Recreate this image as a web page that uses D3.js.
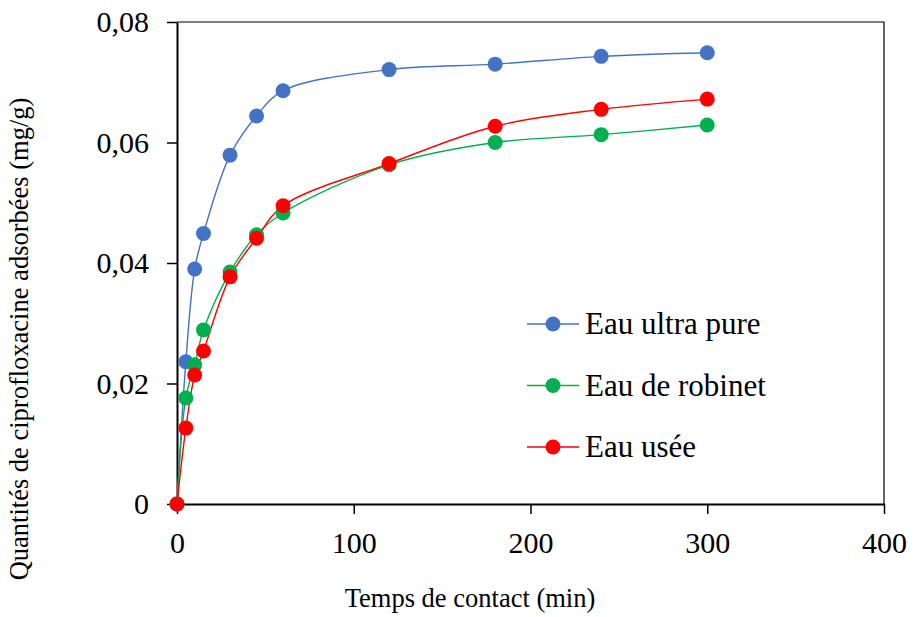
<!DOCTYPE html>
<html>
<head>
    <script src="https://cdnjs.cloudflare.com/ajax/libs/d3/7.8.5/d3.min.js"></script>
    <style>
        body { margin: 0; background: white; }
        svg text { font-family: "Liberation Serif", "Times New Roman", serif; fill: #000; }
    </style>
</head>
<body>
<div id="chart"></div>
<script>
// Data
const temps = [0, 5, 10, 15, 30, 45, 60, 120, 180, 240, 300];
const ultraPure = [0, 0.0236, 0.0390, 0.0449, 0.0579, 0.0644, 0.0686, 0.0721, 0.0730, 0.0743, 0.0749];
const robinet = [0, 0.0176, 0.0231, 0.0289, 0.0385, 0.0447, 0.0483, 0.0563, 0.0600, 0.0613, 0.0629];
const usee = [0, 0.0126, 0.0214, 0.0254, 0.0377, 0.0441, 0.0495, 0.0565, 0.0627, 0.0655, 0.0672];
const xTicks = [0, 100, 200, 300, 400];
const yTicks = [0, 0.02, 0.04, 0.06, 0.08];

const series = [
    { name: 'Eau ultra pure', values: ultraPure, color: '#4472C4' },
    { name: 'Eau de robinet', values: robinet, color: '#00B050' },
    { name: 'Eau usée', values: usee, color: '#FF0000' }
];

// Setup
const W = 915, H = 617;
const margin = { top: 22, right: 31, bottom: 113, left: 177 };
const width = W - margin.left - margin.right;
const height = H - margin.top - margin.bottom;

const svg = d3.select('#chart').append('svg')
    .attr('width', W)
    .attr('height', H);

const g = svg.append('g')
    .attr('transform', `translate(${margin.left},${margin.top})`);

const x = d3.scaleLinear().domain([0, 400]).range([0, width]);
const y = d3.scaleLinear().domain([0, 0.08]).range([height, 0]);

const fmt = d => d === 0 ? '0' : d3.format('.2f')(d).replace('.', ',');

// frame (top and right)
g.append('path')
    .attr('d', `M0,0H${width}V${height}`)
    .attr('fill', 'none')
    .attr('stroke', '#000')
    .attr('stroke-width', 1.2);

// Axes
const xAxis = g.append('g')
    .attr('transform', `translate(0,${height})`)
    .call(d3.axisBottom(x).tickValues(xTicks).tickSize(10).tickPadding(12).tickSizeOuter(0));
const yAxis = g.append('g')
    .call(d3.axisLeft(y).tickValues(yTicks).tickSize(10).tickPadding(18).tickFormat(fmt).tickSizeOuter(0));

[xAxis, yAxis].forEach(a => {
    a.select('.domain').attr('stroke', '#000').attr('stroke-width', 2);
    a.selectAll('.tick line').attr('stroke', '#000').attr('stroke-width', 1.5);
    a.selectAll('.tick text')
        .attr('fill', '#000')
        .style('font-family', '"Liberation Serif", "Times New Roman", serif')
        .style('font-size', '30px');
});
xAxis.selectAll('.tick text').attr('dy', '0.9em');
yAxis.selectAll('.tick text').attr('dy', '0.33em');

// Lines and markers
const line = d3.line()
    .x((d, i) => x(temps[i]))
    .y(d => y(d))
    .curve(d3.curveCatmullRom.alpha(0.5));

series.forEach(s => {
    g.append('path')
        .datum(s.values)
        .attr('fill', 'none')
        .attr('stroke', s.color)
        .attr('stroke-width', 1.4)
        .attr('d', line);
});
series.forEach(s => {
    g.selectAll(null)
        .data(s.values)
        .enter()
        .append('circle')
        .attr('cx', (d, i) => x(temps[i]))
        .attr('cy', d => y(d))
        .attr('r', 7.5)
        .attr('fill', s.color);
});

// Legend
const legend = svg.append('g').attr('transform', 'translate(527,324)');
series.forEach((s, i) => {
    const row = legend.append('g').attr('transform', `translate(0,${i * 61.5})`);
    row.append('line')
        .attr('x1', 0).attr('x2', 52)
        .attr('stroke', s.color).attr('stroke-width', 1.4);
    row.append('circle')
        .attr('cx', 26).attr('r', 7.5).attr('fill', s.color);
    row.append('text')
        .attr('x', 58)
        .attr('dy', '0.33em')
        .style('font-size', '31px')
        .text(s.name);
});

// Axis titles
svg.append('text')
    .attr('x', 470)
    .attr('y', 607)
    .attr('text-anchor', 'middle')
    .style('font-size', '26.5px')
    .text('Temps de contact (min)');

svg.append('text')
    .attr('transform', `translate(28,339) rotate(-90)`)
    .attr('text-anchor', 'middle')
    .style('font-size', '26.5px')
    .text('Quantités de ciprofloxacine adsorbées (mg/g)');
</script>
</body>
</html>
